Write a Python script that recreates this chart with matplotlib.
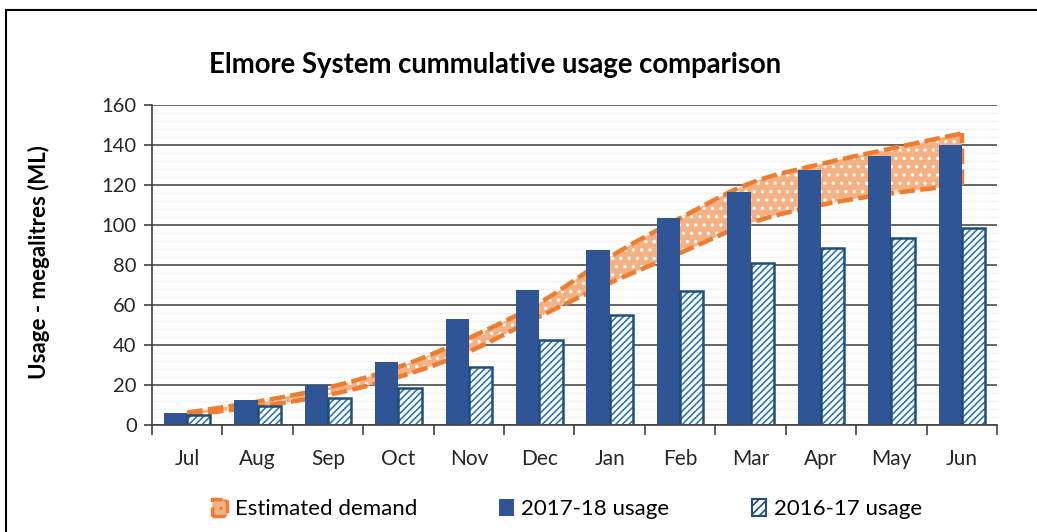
import numpy as np
import matplotlib.pyplot as plt
from matplotlib.patches import Patch
from matplotlib.lines import Line2D

months = ['Jul', 'Aug', 'Sep', 'Oct', 'Nov', 'Dec', 'Jan', 'Feb', 'Mar', 'Apr', 'May', 'Jun']
usage_1718 = [6.2, 12.5, 20, 31.7, 52.8, 67.5, 87.5, 103.7, 116.3, 127.3, 134.3, 140]
usage_1617 = [5, 9.5, 13.3, 18.7, 28.8, 42.5, 55, 67.2, 80.8, 88.3, 93.7, 98.7]
demand_high = [6.2, 11.7, 18.7, 29, 43.5, 61, 84, 103.5, 121, 130.5, 138.3, 145.8]
demand_low = [5, 9.2, 15, 24, 36.7, 54.2, 71, 86, 101, 110, 115.8, 120]

navy = '#2F5597'
hatch_blue = '#2E75B6'
edge_blue = '#1F4E79'
orange = '#ED7D31'
light_orange = '#F4B183'


def smooth(x, y, n=20):
    # catmull-rom curve through the points, only for drawing
    x = np.asarray(x, float)
    y = np.asarray(y, float)
    px = np.concatenate([[2 * x[0] - x[1]], x, [2 * x[-1] - x[-2]]])
    py = np.concatenate([[2 * y[0] - y[1]], y, [2 * y[-1] - y[-2]]])
    xs, ys = [], []
    t = np.linspace(0, 1, n, endpoint=False)
    for i in range(1, len(px) - 2):
        for p, out in ((px, xs), (py, ys)):
            p0, p1, p2, p3 = p[i - 1], p[i], p[i + 1], p[i + 2]
            out.extend(0.5 * ((2 * p1) + (-p0 + p2) * t
                              + (2 * p0 - 5 * p1 + 4 * p2 - p3) * t ** 2
                              + (-p0 + 3 * p1 - 3 * p2 + p3) * t ** 3))
    xs.append(x[-1])
    ys.append(y[-1])
    return np.array(xs), np.array(ys)


plt.rcParams['font.family'] = ['Lato', 'DejaVu Sans']
plt.rcParams['hatch.linewidth'] = 1.2

fig = plt.figure(figsize=(10.37, 5.32), dpi=100)
ax = fig.add_axes([0.1466, 0.2011, 0.8148, 0.6015])
ax.set_axisbelow(True)

x = np.arange(len(months))
w = 0.33

# gridlines
ax.set_ylim(0, 160)
ax.set_xlim(-0.5, len(months) - 0.5)
ax.set_yticks(np.arange(0, 161, 20))
ax.set_yticks(np.arange(0, 161, 4), minor=True)
ax.grid(axis='y', which='minor', color='#F2F2F2', lw=1.0)
ax.grid(axis='y', which='major', color='#595959', lw=1.3)
ax.tick_params(axis='y', which='minor', length=0)

# estimated demand band (behind the bars, over the grid)
sx, sh = smooth(x, demand_high)
_, sl = smooth(x, demand_low)
ax.fill_between(sx, sl, sh, facecolor=light_orange, edgecolor='white', hatch='..',
                lw=0, zorder=1)
for s in (sh, sl):
    ax.plot(sx, s, color=orange, lw=3.2, dashes=(3.5, 1.2), zorder=1.2)
ax.plot([x[-1], x[-1]], [demand_low[-1], demand_high[-1]], color=orange, lw=3.2,
        dashes=(3.5, 1.2), zorder=1.2)

# bars
ax.bar(x - w / 2, usage_1718, w, color=navy, zorder=2)
ax.bar(x + w / 2, usage_1617, w, facecolor='white', edgecolor=hatch_blue,
       hatch='/////', lw=0, zorder=2)
ax.bar(x + w / 2, usage_1617, w, facecolor='none', edgecolor=edge_blue, lw=1.8, zorder=2.1)

# axes styling
for side in ('top', 'right'):
    ax.spines[side].set_visible(False)
ax.spines['left'].set_color('#404040')
ax.spines['bottom'].set_color('#404040')
ax.spines['left'].set_linewidth(1.2)
ax.spines['bottom'].set_linewidth(1.2)
ax.spines['bottom'].set_zorder(3)
ax.set_xticks(x)
ax.set_xticklabels(months)
ax.set_xticks(np.arange(-0.5, len(months), 1), minor=True)
ax.tick_params(axis='x', which='major', length=0, pad=17, labelsize=15, labelcolor='#262626')
ax.tick_params(axis='x', which='minor', length=7, width=1.2, color='#404040', direction='out')
ax.tick_params(axis='y', which='major', length=6, width=1.2, color='#404040',
               labelsize=14.5, labelcolor='#262626', pad=5)

ax.set_ylabel('Usage - megalitres (ML)', fontsize=16, fontweight='bold')
ax.yaxis.set_label_coords(-0.121, 0.51)
fig.text(0.477, 0.878, 'Elmore System cummulative usage comparison', ha='center',
         va='center', fontsize=19.8, fontweight='bold')

handles = [
    Patch(facecolor=light_orange, edgecolor=orange, hatch='..', lw=2.5, linestyle='--'),
    Patch(facecolor=navy),
    Patch(facecolor='white', edgecolor=edge_blue, hatch='////', lw=1.5),
]
labels = ['Estimated demand', '2017-18 usage', '2016-17 usage']
fig.legend(handles, labels, loc='center', bbox_to_anchor=(0.547, 0.043), ncol=3,
           frameon=False, fontsize=16, handlelength=0.65, handleheight=0.8,
           handletextpad=0.35, columnspacing=3.7)

# frame around the picture
fig.add_artist(Line2D([6 / 1037, 6 / 1037], [0, 1 - 10 / 532], color='black', lw=1.5,
                      transform=fig.transFigure))
fig.add_artist(Line2D([6 / 1037, 1], [1 - 10 / 532, 1 - 10 / 532], color='black', lw=1.5,
                      transform=fig.transFigure))

fig.savefig('out.png', dpi=100)
